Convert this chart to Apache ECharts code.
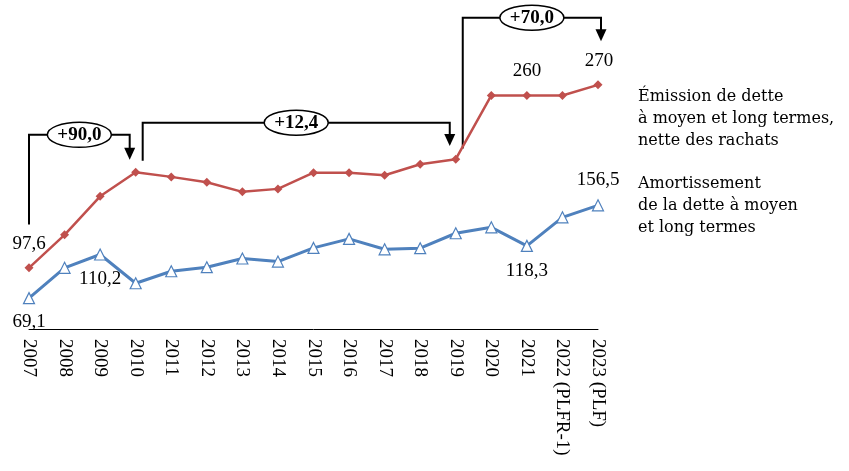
<!DOCTYPE html>
<html>
<head>
<meta charset="utf-8">
<script src="https://cdn.jsdelivr.net/npm/echarts@6/dist/echarts.min.js"></script>
<style>
  html, body { margin: 0; padding: 0; background: #fff; }
  #main { width: 849px; height: 471px; }
</style>
</head>
<body>
<div id="main"></div>
<script>
// années
var years = ['2007','2008','2009','2010','2011','2012','2013','2014','2015','2016',
  '2017','2018','2019','2020','2021','2022 (PLFR-1)','2023 (PLF)'];
// émission nette des rachats
var emission = [97.6, 128.7, 165.0, 187.6, 183.3, 178.2, 169.2, 172.0, 187.3, 187.3,
  184.8, 195.2, 200.0, 260, 260, 260, 270];
// amortissement
var amortissement = [69.1, 97.6, 110.2, 83.1, 94.4, 98.2, 106.4, 103.5, 116.4, 124.9,
  115.1, 116.1, 130.2, 135.8, 118.3, 145.2, 156.5];
// points étiquetés : index -> [position, offset]
var emissionLabels = { 0: ['top', [0, -5]], 14: ['top', [0, -5]], 16: ['top', [1, -5]] };
var amortLabels = { 0: ['bottom', [0, 3]], 2: ['bottom', [0, 4]], 14: ['bottom', [0, 5]], 16: ['top', [0, -5]] };
// accolades : de, à, texte, niveau, bas du départ, fin de flèche
var braces = [
  { from: 0, to: 3, text: '+90,0', level: 223, start: 138.5, end: 199.5, dxFrom: 0, dxTo: -6 },
  { from: 3, to: 12, text: '+12,4', level: 234.4, start: 198.6, end: 212.3, dxFrom: 7, dxTo: -6 },
  { from: 12, to: 16, text: '+70,0', level: 333.3, start: 210, end: 311, dxFrom: 7, dxTo: 3 }
];
var legendLines = [
  ['Émission de dette', 'à moyen et long termes,', 'nette des rachats'],
  ['Amortissement', 'de la dette à moyen', 'et long termes']
];

var FONT = '"Liberation Serif", "Times New Roman", serif';
var LEGEND_FONT = '"DejaVu Serif", serif';
var RED = '#C0504D', BLUE = '#4F81BD';

function fmt(v) { return String(v).replace('.', ','); }

function withLabels(values, labels) {
  return values.map(function (v, i) {
    if (!labels[i]) return v;
    return {
      value: v,
      label: { show: true, position: labels[i][0], offset: labels[i][1],
        formatter: fmt(v), color: '#000', fontFamily: FONT, fontSize: 19 }
    };
  });
}

var myChart = echarts.init(document.getElementById('main'));
myChart.setOption({
  animation: false,
  grid: { left: 29, right: 251, top: 53, bottom: 142 },
  xAxis: {
    type: 'category',
    data: years,
    boundaryGap: false,
    axisLine: { lineStyle: { color: '#000', width: 1 } },
    axisTick: { show: false },
    axisLabel: { rotate: -90, color: '#000', fontFamily: FONT, fontSize: 19, margin: 10, interval: 0 }
  },
  yAxis: { type: 'value', min: 40, max: 300, show: false, splitLine: { show: false } },
  series: [
    {
      name: 'Émission', type: 'line', data: withLabels(emission, emissionLabels),
      symbol: 'diamond', symbolSize: 9,
      itemStyle: { color: RED },
      lineStyle: { color: RED, width: 2.5 }
    },
    {
      name: 'Amortissement', type: 'line', data: withLabels(amortissement, amortLabels),
      symbol: 'triangle', symbolSize: 11,
      itemStyle: { color: '#fff', borderColor: BLUE, borderWidth: 1.2 },
      lineStyle: { color: BLUE, width: 3 }
    }
  ]
});

// accolades et flèches
var elements = [];
function px(i, v) { return myChart.convertToPixel({ xAxisIndex: 0, yAxisIndex: 0 }, [i, v]); }
braces.forEach(function (b) {
  var x1 = px(b.from, 0)[0] + b.dxFrom;
  var x2 = px(b.to, 0)[0] + b.dxTo;
  var yl = px(0, b.level)[1];
  var ys = px(0, b.start)[1];
  var ye = px(0, b.end)[1];
  elements.push({
    type: 'polyline', silent: true,
    shape: { points: [[x1, ys], [x1, yl], [x2, yl], [x2, ye - 10]] },
    style: { stroke: '#000', lineWidth: 2, fill: null }
  });
  elements.push({
    type: 'polygon', silent: true,
    shape: { points: [[x2 - 5.5, ye - 12], [x2 + 5.5, ye - 12], [x2, ye]] },
    style: { fill: '#000' }
  });
  var cx = (x1 + x2) / 2;
  elements.push({
    type: 'ellipse', silent: true,
    shape: { cx: cx, cy: yl, rx: 32, ry: 12.5 },
    style: { fill: '#fff', stroke: '#000', lineWidth: 1.5 }
  });
  elements.push({
    type: 'text', silent: true, x: cx, y: yl + 0.5,
    style: { text: b.text, fill: '#000', font: 'bold 19px ' + FONT, align: 'center', verticalAlign: 'middle' }
  });
});
// légende
var legendTop = [97, 184];
legendLines.forEach(function (lines, k) {
  lines.forEach(function (t, j) {
    elements.push({
      type: 'text', silent: true, x: 638, y: legendTop[k] + j * 22,
      style: { text: t, fill: '#000', font: '16px ' + LEGEND_FONT, verticalAlign: 'middle' }
    });
  });
});
myChart.setOption({ graphic: { elements: elements } });
</script>
</body>
</html>
